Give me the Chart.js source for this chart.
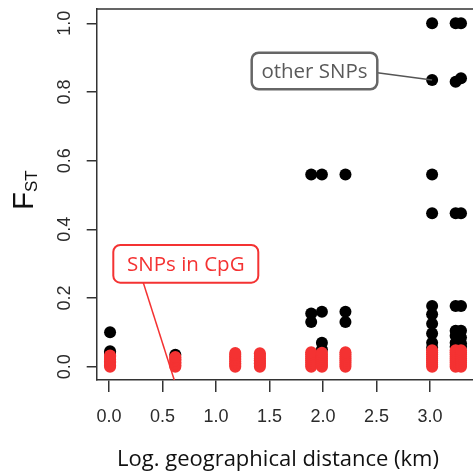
<!DOCTYPE html>
<html>
<head>
<meta charset="utf-8">
<script src="https://cdn.jsdelivr.net/npm/chart.js@4"></script>
<style>
  html, body { margin: 0; padding: 0; background: #fff; overflow: hidden; }
  #wrap { width: 473px; height: 476px; overflow: hidden; }
  canvas { display: block; }
</style>
</head>
<body>
<div id="wrap"><canvas id="c" width="500" height="476"></canvas></div>
<script>
// Tick positions for the two axes
const xTicks = [0, 0.5, 1.0, 1.5, 2.0, 2.5, 3.0];
const yTicks = [0, 0.2, 0.4, 0.6, 0.8, 1.0];

// SNPs in CpG context: log distance (km) and FST
const cpgDist = [
  0.01, 0.01, 0.01, 0.01, 0.01, 0.01, 0.01, 0.01, 0.01,
  0.62, 0.62, 0.62, 0.62, 0.62, 0.62, 0.62, 0.62,
  1.18, 1.18, 1.18, 1.18, 1.18, 1.18, 1.18, 1.18, 1.18,
  1.41, 1.41, 1.41, 1.41, 1.41, 1.41, 1.41, 1.41, 1.41,
  1.89, 1.89, 1.89, 1.89, 1.89, 1.89, 1.89, 1.89,
  1.99, 1.99, 1.99, 1.99, 1.99, 1.99, 1.99, 1.99,
  2.21, 2.21, 2.21, 2.21, 2.21, 2.21, 2.21, 2.21,
  3.02, 3.02, 3.02, 3.02, 3.02, 3.02, 3.02, 3.02, 3.02,
  3.24, 3.24, 3.24, 3.24, 3.24, 3.24, 3.24, 3.24, 3.24,
  3.29, 3.29, 3.29, 3.29, 3.29, 3.29, 3.29, 3.29, 3.29
];
const cpgFst = [
  0.000, 0.004, 0.008, 0.012, 0.016, 0.021, 0.025, 0.030, 0.033,
  0.000, 0.004, 0.009, 0.013, 0.018, 0.022, 0.026, 0.028,
  0.000, 0.005, 0.010, 0.015, 0.020, 0.025, 0.030, 0.035, 0.040,
  0.000, 0.005, 0.010, 0.014, 0.019, 0.024, 0.029, 0.034, 0.039,
  0.000, 0.006, 0.012, 0.018, 0.024, 0.030, 0.036, 0.042,
  0.000, 0.005, 0.011, 0.017, 0.023, 0.029, 0.035, 0.041,
  0.000, 0.006, 0.012, 0.018, 0.024, 0.030, 0.036, 0.042,
  0.000, 0.006, 0.012, 0.018, 0.024, 0.030, 0.036, 0.042, 0.048,
  0.000, 0.006, 0.012, 0.018, 0.024, 0.030, 0.036, 0.042, 0.048,
  0.000, 0.006, 0.012, 0.018, 0.024, 0.030, 0.036, 0.042, 0.048
];

// All other SNPs: log distance (km) and FST
const otherDist = [
  0.01, 0.01, 0.01,
  0.62,
  1.89, 1.99, 2.21,
  1.89, 1.99, 1.89, 2.21, 2.21,
  1.99, 1.99,
  3.02, 3.02, 3.02, 3.02, 3.02, 3.02, 3.02, 3.02, 3.02, 3.02,
  3.24, 3.24, 3.24, 3.24, 3.24, 3.24, 3.24, 3.24,
  3.29, 3.29, 3.29, 3.29, 3.29, 3.29, 3.29, 3.29
];
const otherFst = [
  0.100, 0.045, 0.040,
  0.035,
  0.560, 0.560, 0.560,
  0.155, 0.160, 0.130, 0.160, 0.130,
  0.070, 0.050,
  1.000, 0.835, 0.560, 0.447, 0.177, 0.153, 0.125, 0.097, 0.070, 0.055,
  1.000, 0.830, 0.447, 0.177, 0.105, 0.090, 0.070, 0.058,
  1.000, 0.840, 0.447, 0.177, 0.105, 0.085, 0.068, 0.058
];

const toPoints = (xs, ys) => xs.map((x, i) => ({ x: x, y: ys[i] }));

const RED = 'rgb(244, 50, 50)';
const AXIS = '#333333';

// Frame, tick labels, axis titles and the two callout boxes
const decorations = {
  id: 'decorations',
  afterDraw(chart) {
    const ctx = chart.ctx;
    const a = chart.chartArea;
    const xs = chart.scales.x, ys = chart.scales.y;
    ctx.save();

    // top and right edges of the plot frame
    ctx.strokeStyle = AXIS;
    ctx.lineWidth = 1.5;
    ctx.beginPath();
    ctx.moveTo(a.left, a.top);
    ctx.lineTo(a.right, a.top);
    ctx.lineTo(a.right, a.bottom);
    ctx.stroke();

    // tick labels
    ctx.fillStyle = '#2b2b2b';
    ctx.font = '18px "Liberation Sans", Arial, sans-serif';
    ctx.textAlign = 'center';
    ctx.textBaseline = 'alphabetic';
    xs.ticks.forEach(t => {
      const px = xs.getPixelForValue(t.value);
      ctx.fillText(t.value.toFixed(1), px, a.bottom + 41.5);
    });
    ys.ticks.forEach(t => {
      const py = ys.getPixelForValue(t.value);
      ctx.save();
      ctx.translate(a.left - 27, py);
      ctx.rotate(-Math.PI / 2);
      ctx.fillText(t.value.toFixed(1), 0, 0);
      ctx.restore();
    });

    // x-axis title
    ctx.fillStyle = '#111';
    ctx.font = '22px "Open Sans", sans-serif';
    ctx.fillText('Log. geographical distance (km)', 278, 466);

    // y-axis title: F with subscript ST
    ctx.save();
    ctx.translate(33, 190);
    ctx.rotate(-Math.PI / 2);
    ctx.textAlign = 'left';
    ctx.font = '29px "Liberation Sans", Arial, sans-serif';
    const wF = ctx.measureText('F').width;
    ctx.font = '17px "Liberation Sans", Arial, sans-serif';
    const wS = ctx.measureText('ST').width;
    const x0 = -(wF + wS) / 2;
    ctx.font = '29px "Liberation Sans", Arial, sans-serif';
    ctx.fillText('F', x0, 0);
    ctx.font = '17px "Liberation Sans", Arial, sans-serif';
    ctx.fillText('ST', x0 + wF, 4);
    ctx.restore();

    // callout boxes
    const roundRect = (x, y, w, h, r) => {
      ctx.beginPath();
      ctx.moveTo(x + r, y);
      ctx.arcTo(x + w, y, x + w, y + h, r);
      ctx.arcTo(x + w, y + h, x, y + h, r);
      ctx.arcTo(x, y + h, x, y, r);
      ctx.arcTo(x, y, x + w, y, r);
      ctx.closePath();
    };

    // "other SNPs" callout pointing at a point near FST 0.835
    const ox = 251.7, oy = 52.7, ow = 125.6, oh = 36.6;
    ctx.strokeStyle = '#555';
    ctx.lineWidth = 1.5;
    ctx.beginPath();
    ctx.moveTo(ox + ow, oy + 20);
    ctx.lineTo(xs.getPixelForValue(3.02), ys.getPixelForValue(0.835));
    ctx.stroke();
    ctx.fillStyle = '#fff';
    roundRect(ox, oy, ow, oh, 7);
    ctx.fill();
    ctx.strokeStyle = '#666';
    ctx.lineWidth = 2.5;
    ctx.stroke();
    ctx.fillStyle = '#5a5a5a';
    ctx.font = '20.5px "Open Sans", sans-serif';
    ctx.textAlign = 'center';
    ctx.textBaseline = 'middle';
    ctx.fillText('other SNPs', ox + ow / 2, oy + oh / 2 + 1);

    // "SNPs in CpG" callout
    const cx = 113.3, cy = 245, cw = 145, ch = 37.7;
    ctx.strokeStyle = RED;
    ctx.lineWidth = 1.5;
    ctx.beginPath();
    ctx.moveTo(cx + 30, cy + ch);
    ctx.lineTo(xs.getPixelForValue(0.61), a.bottom);
    ctx.stroke();
    ctx.fillStyle = '#fff';
    roundRect(cx, cy, cw, ch, 7);
    ctx.fill();
    ctx.strokeStyle = RED;
    ctx.lineWidth = 2;
    ctx.stroke();
    ctx.fillStyle = RED;
    ctx.font = '20.5px "Open Sans", sans-serif';
    ctx.fillText('SNPs in CpG', cx + cw / 2, cy + ch / 2 + 1);

    ctx.restore();
  }
};

new Chart(document.getElementById('c'), {
  type: 'scatter',
  data: {
    datasets: [
      {
        label: 'SNPs in CpG',
        data: toPoints(cpgDist, cpgFst),
        backgroundColor: RED,
        borderWidth: 0,
        pointRadius: 6,
        pointHoverRadius: 6
      },
      {
        label: 'other SNPs',
        data: toPoints(otherDist, otherFst),
        backgroundColor: '#000',
        borderWidth: 0,
        pointRadius: 6,
        pointHoverRadius: 6
      }
    ]
  },
  options: {
    responsive: false,
    animation: false,
    devicePixelRatio: 1,
    layout: { padding: { left: 86.7, top: 9, right: 10, bottom: 84 } },
    plugins: { legend: { display: false }, tooltip: { enabled: false } },
    events: [],
    scales: {
      x: {
        type: 'linear',
        min: -0.115,
        max: 3.561,
        afterBuildTicks: s => { s.ticks = xTicks.map(v => ({ value: v })); },
        ticks: { display: false },
        grid: { drawOnChartArea: false, drawTicks: true, tickLength: 12, color: AXIS, lineWidth: 1.5 },
        border: { display: true, color: AXIS, width: 1.5 }
      },
      y: {
        type: 'linear',
        min: -0.0387,
        max: 1.0416,
        afterBuildTicks: s => { s.ticks = yTicks.map(v => ({ value: v })); },
        ticks: { display: false },
        grid: { drawOnChartArea: false, drawTicks: true, tickLength: 10, color: AXIS, lineWidth: 1.5 },
        border: { display: true, color: AXIS, width: 1.5 }
      }
    }
  },
  plugins: [decorations]
});
</script>
</body>
</html>
